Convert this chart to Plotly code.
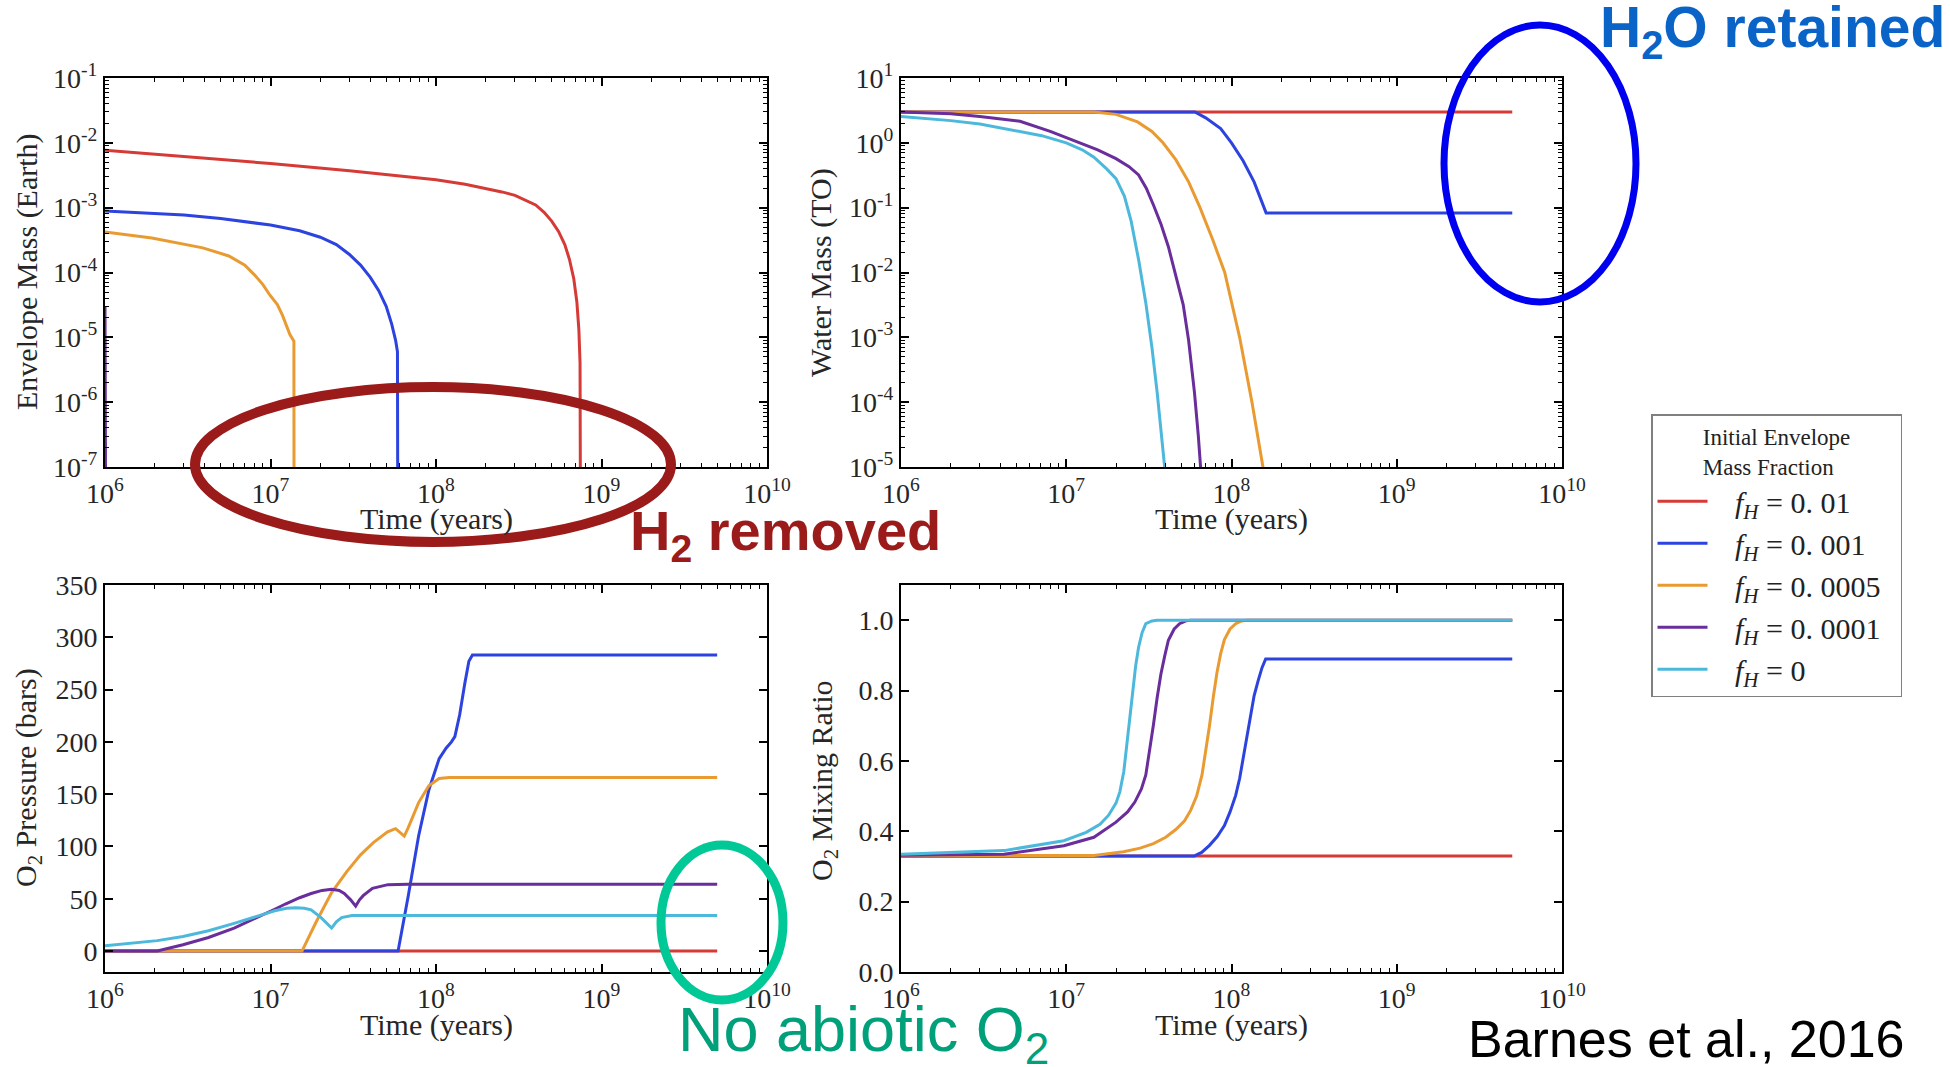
import plotly.graph_objects as go

# ---------------- data ----------------
labels = [
    "<i>f</i><sub><i>H</i></sub> = 0. 01",
    "<i>f</i><sub><i>H</i></sub> = 0. 001",
    "<i>f</i><sub><i>H</i></sub> = 0. 0005",
    "<i>f</i><sub><i>H</i></sub> = 0. 0001",
    "<i>f</i><sub><i>H</i></sub> = 0",
]
colors = ["#d63a36", "#2c43e0", "#e99b32", "#6a2d9c", "#4cb8dc"]

# Panel 1: envelope mass (Earth masses) vs time (years)
env_t_red = [1e6, 2e6, 5e6, 1e7, 3e7, 1e8, 1.5e8, 2e8, 2.5e8, 3e8, 3.5e8, 4e8, 4.5e8, 5e8, 5.5e8,
             6e8, 6.4e8, 6.8e8, 7.1e8, 7.3e8, 7.42e8, 7.5e8]
env_m_red = [7.7e-3, 6.7e-3, 5.5e-3, 4.8e-3, 3.7e-3, 2.7e-3, 2.3e-3, 2.0e-3, 1.75e-3, 1.55e-3, 1.3e-3,
             1.1e-3, 8.5e-4, 6.2e-4, 4.3e-4, 2.7e-4, 1.6e-4, 8e-5, 3.5e-5, 1.3e-5, 4e-6, 1e-10]
env_t_blue = [1e6, 2e6, 3e6, 5e6, 1e7, 1.5e7, 2e7, 2.5e7, 3e7, 3.5e7, 4e7, 4.5e7, 5e7, 5.4e7, 5.7e7,
              5.85e7, 5.9e7]
env_m_blue = [8.9e-4, 8.2e-4, 7.7e-4, 6.8e-4, 5.4e-4, 4.4e-4, 3.5e-4, 2.7e-4, 1.9e-4, 1.3e-4, 8.5e-5,
              5.3e-5, 3.0e-5, 1.6e-5, 9e-6, 6e-6, 1e-10]
env_t_orange = [1e6, 1.92e6, 3.9e6, 5.6e6, 7e6, 8e6, 9e6, 9.9e6, 1.1e7, 1.18e7, 1.31e7, 1.385e7, 1.39e7]
env_m_orange = [4.2e-4, 3.4e-4, 2.4e-4, 1.8e-4, 1.3e-4, 9.2e-5, 6.5e-5, 4.5e-5, 3.2e-5, 2.2e-5, 1.1e-5,
                8.7e-6, 1e-10]
env_t_purple = [1.0e6, 1.01e6, 1.015e6]
env_m_purple = [3e-5, 3e-6, 1e-10]
env_t_cyan = []
env_m_cyan = []

# Panel 2: water mass (terrestrial oceans)
wat_t_red = [1e6, 5e9]
wat_m_red = [3.0, 3.0]
wat_t_blue = [1e6, 6e7, 6.98e7, 8.6e7, 1.0e8, 1.175e8, 1.37e8, 1.52e8, 1.62e8, 5e9]
wat_m_blue = [3.0, 3.0, 2.43, 1.66, 1.0, 0.53, 0.25, 0.13, 0.083, 0.083]
wat_t_orange = [1e6, 1.47e7, 2e7, 2.7e7, 3.3e7, 3.85e7, 4.6e7, 5.5e7, 6.45e7, 7.7e7, 9.1e7, 1.12e8,
                1.33e8, 1.55e8, 1.6e8]
wat_m_orange = [3.0, 3.0, 2.75, 2.1, 1.5, 1.0, 0.55, 0.25, 0.1, 0.032, 0.01, 1e-3, 1e-4, 1e-5, 1e-7]
wat_t_purple = [1e6, 2e6, 3e6, 5.25e6, 8e6, 1.19e7, 1.55e7, 2e7, 2.4e7, 2.74e7, 3.05e7, 3.37e7, 3.75e7,
                4.15e7, 4.6e7, 5.1e7, 5.5e7, 5.97e7, 6.3e7, 6.5e7, 7e7]
wat_m_purple = [3.0, 2.8, 2.55, 2.15, 1.5, 1.0, 0.78, 0.57, 0.43, 0.32, 0.2, 0.11, 0.055, 0.025, 0.009,
                3.2e-3, 9e-4, 1.4e-4, 3e-5, 1e-5, 1e-7]
wat_t_cyan = [1e6, 2e6, 3e6, 5.25e6, 7.1e6, 1e7, 1.25e7, 1.47e7, 1.75e7, 2e7, 2.25e7, 2.47e7, 2.75e7,
              3.03e7, 3.3e7, 3.55e7, 3.75e7, 3.94e7, 4.2e7]
wat_m_cyan = [2.55, 2.2, 1.95, 1.5, 1.29, 1.0, 0.78, 0.6, 0.4, 0.28, 0.15, 0.062, 0.015, 3.4e-3, 7e-4,
              1.4e-4, 3.5e-5, 1e-5, 1e-7]

# Panel 3: O2 pressure (bars)
pre_t_red = [1e6, 5e9]
pre_p_red = [0, 0]
pre_t_blue = [1e6, 5.9e7, 6.8e7, 7.85e7, 9.05e7, 1.045e8, 1.15e8, 1.24e8, 1.3e8, 1.39e8, 1.49e8, 1.58e8,
              1.66e8, 5e9]
pre_p_blue = [0, 0, 53, 110, 154, 184, 194, 200, 205, 226, 255, 277, 283, 283]
pre_t_orange = [1e6, 1.55e7, 1.89e7, 2.34e7, 2.89e7, 3.5e7, 4.2e7, 5.1e7, 5.7e7, 6.43e7, 6.8e7, 7.85e7,
                9.05e7, 1.045e8, 1.2e8, 5e9]
pre_p_orange = [0, 0, 28, 56, 76, 92, 104, 114, 117, 110, 118, 142, 158, 165, 166, 166]
pre_t_purple = [1e6, 2.07e6, 2.96e6, 4.22e6, 6.03e6, 8.61e6, 1.06e7, 1.23e7, 1.5e7, 1.76e7, 2.05e7,
                2.34e7, 2.6e7, 2.79e7, 3.05e7, 3.27e7, 3.45e7, 3.63e7, 4.13e7, 5.12e7, 6.8e7, 5e9]
pre_p_purple = [0, 0, 6, 13, 22, 33, 40, 45, 51, 55, 58, 59, 58, 55, 49, 43, 49, 53, 60, 63.5, 64, 64]
pre_t_cyan = [1e6, 1.45e6, 2.07e6, 2.96e6, 4.22e6, 6.03e6, 8.61e6, 1.06e7, 1.25e7, 1.42e7, 1.6e7,
              1.76e7, 2.02e7, 2.34e7, 2.5e7, 2.69e7, 3.11e7, 5e9]
pre_p_cyan = [5, 7.5, 10, 14, 19.5, 26.5, 34, 38.5, 41, 41.5, 41, 39.5, 32, 22, 28, 32, 34, 34]

# Panel 4: O2 mixing ratio
mix_t_red = [1e6, 5e9]
mix_r_red = [0.33, 0.33]
mix_t_blue = [1e6, 5.97e7, 6.6e7, 7.36e7, 8.2e7, 9.06e7, 9.8e7, 1.06e8, 1.12e8, 1.175e8, 1.24e8, 1.30e8,
              1.37e8, 1.45e8, 1.53e8, 1.61e8, 5e9]
mix_r_blue = [0.33, 0.33, 0.34, 0.36, 0.385, 0.416, 0.455, 0.502, 0.55, 0.608, 0.67, 0.732, 0.785,
              0.828, 0.865, 0.89, 0.89]
mix_t_orange = [1e6, 1.47e7, 2.22e7, 2.8e7, 3.37e7, 4e7, 4.6e7, 5.2e7, 5.67e7, 6.15e7, 6.63e7, 7.0e7,
                7.36e7, 7.75e7, 8.16e7, 8.6e7, 9.06e7, 9.8e7, 1.06e8, 1.15e8, 1.24e8, 5e9]
mix_r_orange = [0.331, 0.331, 0.342, 0.352, 0.365, 0.383, 0.405, 0.43, 0.46, 0.50, 0.56, 0.63, 0.70,
                0.78, 0.85, 0.905, 0.945, 0.975, 0.99, 0.998, 1.0, 1.0]
mix_t_purple = [1e6, 4.2e6, 9.67e6, 1.47e7, 2.0e7, 2.35e7, 2.6e7, 2.85e7, 3.03e7, 3.2e7, 3.37e7, 3.55e7,
                3.74e7, 3.95e7, 4.15e7, 4.5e7, 4.85e7, 5.3e7, 5.67e7, 5e9]
mix_r_purple = [0.332, 0.335, 0.359, 0.383, 0.426, 0.455, 0.483, 0.52, 0.56, 0.63, 0.703, 0.78, 0.847,
                0.90, 0.943, 0.975, 0.99, 0.998, 1.0, 1.0]
mix_t_cyan = [1e6, 4.2e6, 9.67e6, 1.32e7, 1.6e7, 1.8e7, 2.0e7, 2.11e7, 2.23e7, 2.34e7, 2.43e7, 2.52e7,
              2.63e7, 2.74e7, 2.88e7, 3.03e7, 3.3e7, 3.55e7, 5e9]
mix_r_cyan = [0.335, 0.345, 0.373, 0.397, 0.42, 0.445, 0.48, 0.512, 0.57, 0.656, 0.73, 0.80, 0.87,
              0.923, 0.965, 0.99, 0.998, 1.0, 1.0]

decade_ticks = [1e6, 1e7, 1e8, 1e9, 1e10]
decade_text = ["10<sup>6</sup>", "10<sup>7</sup>", "10<sup>8</sup>", "10<sup>9</sup>", "10<sup>10</sup>"]
env_ticks = [1e-7, 1e-6, 1e-5, 1e-4, 1e-3, 1e-2, 1e-1]
env_text = ["10<sup>-7</sup>", "10<sup>-6</sup>", "10<sup>-5</sup>", "10<sup>-4</sup>", "10<sup>-3</sup>",
            "10<sup>-2</sup>", "10<sup>-1</sup>"]
wat_ticks = [1e-5, 1e-4, 1e-3, 1e-2, 1e-1, 1e0, 1e1]
wat_text = ["10<sup>-5</sup>", "10<sup>-4</sup>", "10<sup>-3</sup>", "10<sup>-2</sup>", "10<sup>-1</sup>",
            "10<sup>0</sup>", "10<sup>1</sup>"]

# ---------------- figure ----------------
W, H = 1950, 1067
SERIF = "Liberation Serif"
SANS = "Liberation Sans"


def fx(p):
    return p / W


def fy(p):
    return 1 - p / H


def minor_log(lo, hi):
    return [m * 10.0 ** e for e in range(lo, hi) for m in range(2, 10)]


series = {
    "env": [(env_t_red, env_m_red), (env_t_blue, env_m_blue), (env_t_orange, env_m_orange),
            (env_t_purple, env_m_purple), (env_t_cyan, env_m_cyan)],
    "wat": [(wat_t_red, wat_m_red), (wat_t_blue, wat_m_blue), (wat_t_orange, wat_m_orange),
            (wat_t_purple, wat_m_purple), (wat_t_cyan, wat_m_cyan)],
    "pre": [(pre_t_red, pre_p_red), (pre_t_blue, pre_p_blue), (pre_t_orange, pre_p_orange),
            (pre_t_purple, pre_p_purple), (pre_t_cyan, pre_p_cyan)],
    "mix": [(mix_t_red, mix_r_red), (mix_t_blue, mix_r_blue), (mix_t_orange, mix_r_orange),
            (mix_t_purple, mix_r_purple), (mix_t_cyan, mix_r_cyan)],
}
axes_for = {"env": ("x", "y"), "wat": ("x2", "y2"), "pre": ("x3", "y3"), "mix": ("x4", "y4")}

fig = go.Figure()
for key in ["wat", "env", "pre", "mix"]:
    xa, ya = axes_for[key]
    for i, (t, v) in enumerate(series[key]):
        fig.add_trace(go.Scatter(
            x=t, y=v, mode="lines", name="&nbsp;&nbsp;&nbsp;" + labels[i] + "&nbsp;&nbsp;",
            line=dict(color=colors[i], width=3),
            xaxis=xa, yaxis=ya,
            showlegend=(key == "wat"), hoverinfo="skip",
        ))

tickfont = dict(family=SERIF, size=28, color="#262626")


def base_axis(**kw):
    d = dict(showline=True, linecolor="black", linewidth=2, mirror="allticks",
             ticks="inside", ticklen=8, tickwidth=1.5, tickcolor="black",
             showgrid=False, zeroline=False, tickfont=tickfont, automargin=False)
    d.update(kw)
    return d


def xlog(domain, anchor):
    return base_axis(type="log", range=[6, 10], domain=domain, anchor=anchor,
                     tickmode="array", tickvals=decade_ticks, ticktext=decade_text,
                     minor=dict(ticks="inside", ticklen=4, tickwidth=1, tickcolor="black",
                                tickmode="array", tickvals=minor_log(6, 10), showgrid=False))


xd_left = [fx(105), fx(767)]
xd_right = [fx(901), fx(1562)]
yd_top = [fy(467), fy(78)]
yd_bot = [fy(972), fy(585)]

fig.update_layout(
    width=W, height=H,
    margin=dict(l=0, r=0, t=0, b=0, autoexpand=False),
    paper_bgcolor="white", plot_bgcolor="white",
    xaxis=xlog(xd_left, "y"),
    yaxis=base_axis(type="log", range=[-7, -1], domain=yd_top, anchor="x",
                    tickmode="array", tickvals=env_ticks, ticktext=env_text,
                    minor=dict(ticks="inside", ticklen=4, tickwidth=1, tickcolor="black",
                               tickmode="array", tickvals=minor_log(-7, -1), showgrid=False)),
    xaxis2=xlog(xd_right, "y2"),
    yaxis2=base_axis(type="log", range=[-5, 1], domain=yd_top, anchor="x2",
                     tickmode="array", tickvals=wat_ticks, ticktext=wat_text,
                     minor=dict(ticks="inside", ticklen=4, tickwidth=1, tickcolor="black",
                                tickmode="array", tickvals=minor_log(-5, 1), showgrid=False)),
    xaxis3=xlog(xd_left, "y3"),
    yaxis3=base_axis(range=[-20, 350], domain=yd_bot, anchor="x3", dtick=50, tick0=0),
    xaxis4=xlog(xd_right, "y4"),
    yaxis4=base_axis(range=[0, 1.1], domain=yd_bot, anchor="x4", dtick=0.2, tick0=0,
                     tickformat=".1f"),
    legend=dict(x=fx(1651), y=fy(414), xanchor="left", yanchor="top",
                bgcolor="white", bordercolor="#808080", borderwidth=1.5,
                font=dict(family=SERIF, size=30, color="#222"),
                title=dict(text="Initial Envelope<br>Mass Fraction", side="top center",
                           font=dict(family=SERIF, size=23, color="#222")),
                tracegroupgap=0, itemwidth=50),
    showlegend=True,
)

# axis titles
title_font = dict(family=SERIF, size=30, color="#262626")
ann = [
    dict(text="Envelope Mass (Earth)", x=fx(27), y=fy(272), textangle=-90),
    dict(text="Time (years)", x=fx(436), y=fy(519)),
    dict(text="Water Mass (TO)", x=fx(821), y=fy(273), textangle=-90),
    dict(text="Time (years)", x=fx(1231), y=fy(519)),
    dict(text="O<sub>2</sub> Pressure (bars)", x=fx(28), y=fy(778), textangle=-90),
    dict(text="Time (years)", x=fx(436), y=fy(1025)),
    dict(text="O<sub>2</sub> Mixing Ratio", x=fx(824), y=fy(781), textangle=-90),
    dict(text="Time (years)", x=fx(1231), y=fy(1025)),
]
for a in ann:
    fig.add_annotation(xref="paper", yref="paper", xanchor="center", yanchor="middle",
                       showarrow=False, font=title_font, **a)

# overlay callouts
fig.add_annotation(text="<b>H<sub>2</sub> removed</b>", xref="paper", yref="paper",
                   x=fx(628), y=fy(534), xanchor="left", yanchor="middle", showarrow=False,
                   font=dict(family=SANS, size=56, color="#9b1b1b"))
fig.add_annotation(text="<b>H<sub>2</sub>O retained</b>", xref="paper", yref="paper",
                   x=fx(1598), y=fy(31), xanchor="left", yanchor="middle", showarrow=False,
                   font=dict(family=SANS, size=57, color="#0a64c8"))
fig.add_annotation(text="No abiotic O<sub>2</sub>", xref="paper", yref="paper",
                   x=fx(676), y=fy(1033), xanchor="left", yanchor="middle", showarrow=False,
                   font=dict(family=SANS, size=63, color="#00a07a"))
fig.add_annotation(text="Barnes et al., 2016", xref="paper", yref="paper",
                   x=fx(1466), y=fy(1039), xanchor="left", yanchor="middle", showarrow=False,
                   font=dict(family=SANS, size=52, color="black"))

fig.add_shape(type="circle", xref="paper", yref="paper", layer="above",
              x0=fx(195), x1=fx(671), y0=fy(542), y1=fy(387),
              line=dict(color="#9b1b1b", width=10))
fig.add_shape(type="circle", xref="paper", yref="paper", layer="above",
              x0=fx(1444), x1=fx(1636), y0=fy(302), y1=fy(25),
              line=dict(color="#0000f0", width=7))
fig.add_shape(type="circle", xref="paper", yref="paper", layer="above",
              x0=fx(661), x1=fx(783), y0=fy(1000), y1=fy(845),
              line=dict(color="#00c896", width=9))

fig.write_html(
    "out.html",
    config={"displayModeBar": False},
    post_script="document.body.style.margin='0px';document.body.style.padding='0px';"
                "document.body.style.overflow='hidden';",
)
